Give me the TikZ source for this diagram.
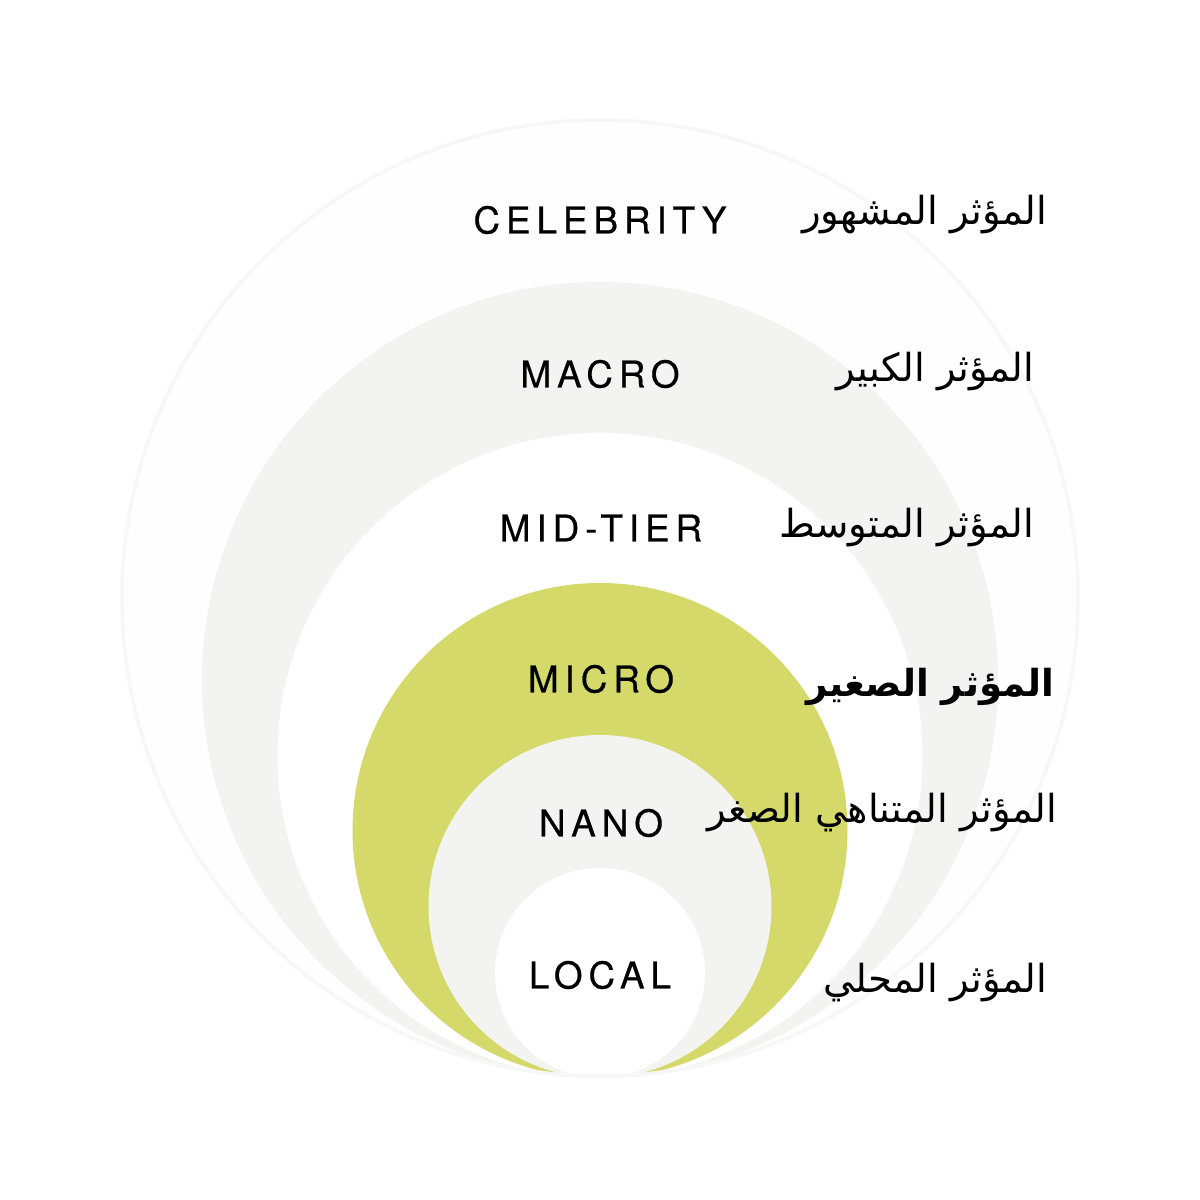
\documentclass[tikz,border=0pt]{standalone}
\usepackage{fontspec}
\usepackage{xcolor}
\TeXXeTstate=1
\newfontfamily\labelfont[LetterSpace=16,FakeBold=0.5]{TeX Gyre Heros}
\newfontfamily\arabicfont[Script=Arabic]{DejaVu Sans}
\definecolor{ringgreen}{RGB}{212,217,106}
\definecolor{ringgrey}{RGB}{243,243,242}
\definecolor{ringfaint}{RGB}{254,254,254}
\tikzstyle{tier} = [font=\labelfont\fontsize{10.5}{12}\selectfont, text=black]
\tikzstyle{arlabel} = [font=\arabicfont\fontsize{11}{14}\selectfont, text=black, anchor=east, inner xsep=0pt]

\begin{document}
\begin{tikzpicture}
    \fill [white] (0,0) rectangle (12,12);
    % rings, all touching at the bottom point (6,1.22)
    \foreach \r/\c in {4.80/ringfaint, 3.98/ringgrey, 3.225/white, 2.475/ringgreen, 1.715/ringgrey, 1.05/white}
        \fill [\c] (6,1.22+\r) circle (\r);
    \draw [black!3, line width=1pt] (6,6.02) circle (4.78);

    \node [tier] (celeb) at (6.00,9.80) {CELEBRITY};
    \node [tier] (macro) at (6.00,8.26) {MACRO};
    \node [tier] (mid)   at (6.01,6.72) {MID-TIER};
    \node [tier] (micro) at (6.01,5.21) {MICRO};
    \node [tier] (nano)  at (6.01,3.77) {NANO};
    \node [tier] (local) at (6.00,2.25) {LOCAL};

    \node [arlabel] (celebar) at (10.48,9.85) {\beginR المؤثر المشهور\endR};
    \node [arlabel] (macroar) at (10.35,8.28) {\beginR المؤثر الكبير\endR};
    \node [arlabel] (midar)   at (10.35,6.72) {\beginR المؤثر المتوسط\endR};
    \node [arlabel, font=\arabicfont\bfseries\fontsize{10.6}{14}\selectfont] (microar) at (10.55,5.13) {\beginR المؤثر الصغير\endR};
    \node [arlabel] (nanoar)  at (10.58,3.87) {\beginR المؤثر المتناهي الصغر\endR};
    \node [arlabel] (localar) at (10.48,2.17) {\beginR المؤثر المحلي\endR};
\end{tikzpicture}
\end{document}
